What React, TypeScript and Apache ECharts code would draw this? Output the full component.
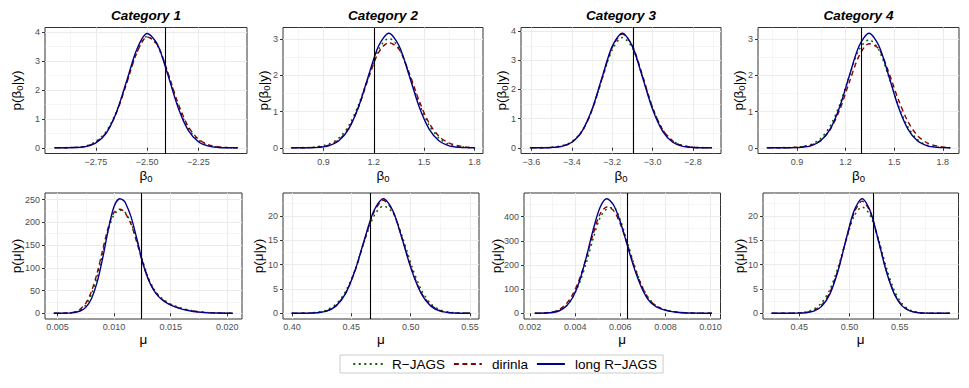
import React, { useEffect, useRef } from 'react';
import * as echarts from 'echarts';

// ---------- labels ----------
const categories = ['Category 1', 'Category 2', 'Category 3', 'Category 4'];
const methodNames = ['R−JAGS', 'dirinla', 'long R−JAGS'];

// ---------- Row 1: posterior of beta0 ----------
const c1BetaX = [-2.95, -2.9, -2.85, -2.8, -2.75, -2.7, -2.65, -2.6, -2.55, -2.5, -2.45, -2.4, -2.35, -2.3, -2.25, -2.2, -2.15, -2.1, -2.06];
const c1BetaRjags = [0, 0.003, 0.015, 0.06, 0.22, 0.56, 1.25, 2.25, 3.3, 3.84, 3.52, 2.58, 1.48, 0.68, 0.26, 0.08, 0.02, 0.004, 0];
const c1BetaDirinla = [0, 0.002, 0.012, 0.05, 0.19, 0.52, 1.2, 2.22, 3.28, 3.82, 3.55, 2.62, 1.55, 0.74, 0.3, 0.1, 0.03, 0.005, 0];
const c1BetaLong = [0, 0.001, 0.008, 0.04, 0.17, 0.5, 1.22, 2.3, 3.4, 3.94, 3.57, 2.54, 1.41, 0.61, 0.21, 0.055, 0.011, 0.002, 0];

const c2BetaX = [0.71, 0.81, 0.87, 0.93, 0.99, 1.05, 1.11, 1.17, 1.23, 1.29, 1.35, 1.41, 1.47, 1.53, 1.59, 1.65, 1.71, 1.77, 1.8];
const c2BetaRjags = [0, 0.008, 0.035, 0.1, 0.26, 0.6, 1.2, 1.98, 2.72, 3.02, 2.76, 2.04, 1.23, 0.62, 0.26, 0.09, 0.03, 0.006, 0];
const c2BetaDirinla = [0, 0.004, 0.02, 0.07, 0.21, 0.54, 1.13, 1.94, 2.64, 2.9, 2.72, 2.08, 1.3, 0.68, 0.31, 0.13, 0.05, 0.01, 0];
const c2BetaLong = [0, 0.002, 0.012, 0.053, 0.186, 0.515, 1.14, 2.01, 2.82, 3.16, 2.82, 2.01, 1.14, 0.515, 0.186, 0.053, 0.012, 0.002, 0];

const c3BetaX = [-3.605, -3.55, -3.5, -3.45, -3.4, -3.35, -3.3, -3.25, -3.2, -3.15, -3.1, -3.05, -3.0, -2.95, -2.9, -2.85, -2.8, -2.75, -2.706];
const c3BetaRjags = [0, 0.004, 0.02, 0.07, 0.21, 0.58, 1.3, 2.36, 3.36, 3.78, 3.42, 2.44, 1.38, 0.63, 0.24, 0.08, 0.02, 0.005, 0];
const c3BetaDirinla = [0, 0.003, 0.013, 0.055, 0.19, 0.55, 1.29, 2.38, 3.44, 3.9, 3.5, 2.48, 1.38, 0.62, 0.23, 0.07, 0.018, 0.004, 0];
const c3BetaLong = [0, 0.002, 0.01, 0.05, 0.189, 0.564, 1.32, 2.42, 3.48, 3.93, 3.48, 2.42, 1.32, 0.564, 0.189, 0.05, 0.01, 0.002, 0];

const c4BetaX = [0.717, 0.805, 0.865, 0.925, 0.985, 1.045, 1.105, 1.165, 1.225, 1.285, 1.345, 1.405, 1.465, 1.525, 1.585, 1.645, 1.705, 1.765, 1.825, 1.845];
const c4BetaRjags = [0, 0.003, 0.01, 0.03, 0.09, 0.25, 0.6, 1.2, 2.0, 2.72, 2.98, 2.7, 1.98, 1.18, 0.57, 0.22, 0.07, 0.02, 0.004, 0];
const c4BetaDirinla = [0, 0.001, 0.005, 0.02, 0.07, 0.2, 0.5, 1.06, 1.83, 2.55, 2.87, 2.73, 2.1, 1.34, 0.72, 0.33, 0.13, 0.05, 0.01, 0];
const c4BetaLong = [0, 0, 0.002, 0.012, 0.053, 0.186, 0.515, 1.14, 2.01, 2.82, 3.16, 2.82, 2.01, 1.14, 0.515, 0.186, 0.053, 0.012, 0.002, 0];

// ---------- Row 2: posterior of mu ----------
const c1MuX = [0.0047, 0.006, 0.0065, 0.007, 0.0075, 0.008, 0.0085, 0.009, 0.0095, 0.01, 0.0105, 0.0108, 0.011, 0.0115, 0.012, 0.0125, 0.013, 0.0135, 0.014, 0.0145, 0.015, 0.016, 0.017, 0.018, 0.019, 0.0205];
const c1MuRjags = [0, 0.5, 2.2, 7, 18, 42, 80, 132, 184, 217, 227, 226, 221, 199, 161, 118, 80, 54, 38, 28, 20, 11, 5, 2, 0.8, 0];
const c1MuDirinla = [0, 0.8, 3, 9, 22, 48, 88, 140, 190, 222, 229, 226, 220, 196, 157, 114, 78, 52, 36, 26, 19, 10, 5, 2, 0.7, 0];
const c1MuLong = [0, 0.3, 1.5, 5, 13, 32, 68, 122, 185, 235, 252, 249, 243, 212, 165, 114, 76, 51, 35, 25, 18, 9, 4, 1.5, 0.5, 0];

const c2MuX = [0.4, 0.413, 0.421, 0.429, 0.437, 0.445, 0.453, 0.461, 0.469, 0.477, 0.485, 0.493, 0.501, 0.509, 0.517, 0.525, 0.533, 0.541, 0.55];
const c2MuRjags = [0, 0.05, 0.2, 0.65, 1.85, 4.4, 8.9, 14.8, 19.9, 22.0, 20.6, 15.7, 9.6, 4.8, 1.95, 0.68, 0.2, 0.05, 0];
const c2MuDirinla = [0, 0.03, 0.12, 0.47, 1.55, 4.05, 8.6, 14.9, 20.7, 23.2, 20.9, 15.2, 8.9, 4.2, 1.62, 0.52, 0.14, 0.03, 0];
const c2MuLong = [0, 0.02, 0.1, 0.43, 1.47, 3.98, 8.66, 15.08, 21.03, 23.5, 21.03, 15.08, 8.66, 3.98, 1.47, 0.43, 0.1, 0.02, 0];

const c3MuX = [0.00222, 0.0027, 0.003, 0.0033, 0.0036, 0.0039, 0.0042, 0.0045, 0.0048, 0.0051, 0.0054, 0.0057, 0.006, 0.0063, 0.0066, 0.0069, 0.0072, 0.0075, 0.0078, 0.0081, 0.0085, 0.009, 0.0095, 0.01006];
const c3MuRjags = [0, 1, 4, 12, 30, 68, 128, 212, 310, 395, 432, 438, 385, 298, 205, 126, 70, 38, 21, 12, 5, 1.5, 0.4, 0];
const c3MuDirinla = [0, 2, 6, 16, 38, 80, 145, 232, 330, 410, 440, 425, 370, 290, 200, 124, 68, 36, 20, 11, 5, 1.6, 0.5, 0];
const c3MuLong = [0, 0.85, 3.2, 10.4, 28.7, 67.5, 136, 235, 347, 438, 474, 448, 378, 284, 191, 115, 61, 32, 18, 10, 4.5, 1.3, 0.4, 0];

const c4MuX = [0.4227, 0.4405, 0.4485, 0.4565, 0.4645, 0.4725, 0.4805, 0.4885, 0.4965, 0.5045, 0.5125, 0.5205, 0.5285, 0.5365, 0.5445, 0.5525, 0.5605, 0.5685, 0.5765, 0.5845, 0.5996];
const c4MuRjags = [0, 0.02, 0.08, 0.28, 0.85, 2.2, 4.9, 9.4, 15.0, 19.9, 21.8, 20.1, 15.4, 9.5, 4.7, 1.9, 0.65, 0.18, 0.04, 0.01, 0];
const c4MuDirinla = [0, 0.01, 0.05, 0.18, 0.6, 1.75, 4.3, 8.9, 15.0, 20.6, 23.0, 20.8, 15.1, 8.8, 4.1, 1.55, 0.48, 0.12, 0.03, 0.005, 0];
const c4MuLong = [0, 0, 0.02, 0.1, 0.43, 1.47, 3.98, 8.66, 15.08, 21.03, 23.5, 21.03, 15.08, 8.66, 3.98, 1.47, 0.43, 0.1, 0.02, 0, 0];

// ---------- reference (true) values drawn as vertical lines ----------
const trueBeta0 = [-2.41, 1.2, -3.095, 1.3];
const trueMu = [0.0124, 0.466, 0.0063, 0.5236];

// ---------- axis ranges ----------
const betaXRanges = [[-2.998, -2.013], [0.659, 1.851], [-3.652, -2.661], [0.66, 1.9]];
const betaYRanges = [[-0.1975, 4.1475], [-0.158, 3.318], [-0.1965, 4.1265], [-0.158, 3.318]];
const muXRanges = [[0.0039, 0.0213], [0.3925, 0.5575], [0.00173, 0.01044], [0.4139, 0.6084]];
const muYRanges = [[-12.6, 264.6], [-1.175, 24.675], [-23.7, 497.7], [-1.175, 24.675]];

// ---------- tick labels ----------
const betaXTicks = [[-2.75, -2.5, -2.25], [0.9, 1.2, 1.5, 1.8], [-3.6, -3.4, -3.2, -3.0, -2.8], [0.9, 1.2, 1.5, 1.8]];
const betaXDecimals = [2, 1, 1, 1];
const betaXMinor = [[-2.875, -2.625, -2.375, -2.125], [0.75, 1.05, 1.35, 1.65], [-3.5, -3.3, -3.1, -2.9, -2.7], [0.75, 1.05, 1.35, 1.65]];
const betaYTicks = [[0, 1, 2, 3, 4], [0, 1, 2, 3], [0, 1, 2, 3, 4], [0, 1, 2, 3]];
const betaYMinor = [[0.5, 1.5, 2.5, 3.5], [0.5, 1.5, 2.5], [0.5, 1.5, 2.5, 3.5], [0.5, 1.5, 2.5]];
const muXTicks = [[0.005, 0.01, 0.015, 0.02], [0.4, 0.45, 0.5, 0.55], [0.002, 0.004, 0.006, 0.008, 0.01], [0.45, 0.5, 0.55]];
const muXDecimals = [3, 2, 3, 2];
const muXMinor = [[0.0075, 0.0125, 0.0175], [0.425, 0.475, 0.525], [0.003, 0.005, 0.007, 0.009], [0.425, 0.475, 0.525, 0.575]];
const muYTicks = [[0, 50, 100, 150, 200, 250], [0, 5, 10, 15, 20], [0, 100, 200, 300, 400], [0, 5, 10, 15, 20]];
const muYMinor = [[25, 75, 125, 175, 225], [2.5, 7.5, 12.5, 17.5, 22.5], [50, 150, 250, 350, 450], [2.5, 7.5, 12.5, 17.5, 22.5]];

type Panel = {
  x: number[]; curves: number[][]; xr: number[]; yr: number[];
  xt: number[]; xd: number; xm: number[]; yt: number[]; ym: number[]; vline: number; isBeta: boolean;
};

const betaCurves = [
  [c1BetaX, c1BetaRjags, c1BetaDirinla, c1BetaLong],
  [c2BetaX, c2BetaRjags, c2BetaDirinla, c2BetaLong],
  [c3BetaX, c3BetaRjags, c3BetaDirinla, c3BetaLong],
  [c4BetaX, c4BetaRjags, c4BetaDirinla, c4BetaLong],
];
const muCurves = [
  [c1MuX, c1MuRjags, c1MuDirinla, c1MuLong],
  [c2MuX, c2MuRjags, c2MuDirinla, c2MuLong],
  [c3MuX, c3MuRjags, c3MuDirinla, c3MuLong],
  [c4MuX, c4MuRjags, c4MuDirinla, c4MuLong],
];

const panels: Panel[] = [
  ...betaCurves.map((c, i) => ({
    x: c[0], curves: [c[1], c[2], c[3]], xr: betaXRanges[i], yr: betaYRanges[i],
    xt: betaXTicks[i], xd: betaXDecimals[i], xm: betaXMinor[i], yt: betaYTicks[i], ym: betaYMinor[i],
    vline: trueBeta0[i], isBeta: true,
  })),
  ...muCurves.map((c, i) => ({
    x: c[0], curves: [c[1], c[2], c[3]], xr: muXRanges[i], yr: muYRanges[i],
    xt: muXTicks[i], xd: muXDecimals[i], xm: muXMinor[i], yt: muYTicks[i], ym: muYMinor[i],
    vline: trueMu[i], isBeta: false,
  })),
];

// ---------- layout / styles ----------
const FONT = "'Liberation Sans', Arial, Helvetica, sans-serif";
const gridRects = [
  [45, 27.5, 202, 126], [283, 27.5, 200, 126], [521, 27.5, 200, 126], [758, 27.5, 201, 126],
  [45, 193, 197, 126], [283, 193, 196, 126], [524, 193, 196.5, 126], [763, 193, 195.5, 126],
];
const yNameGaps = [21, 12, 12, 12, 21, 17, 20, 16];
const xNameGaps = [13.5, 13.5, 13.5, 13.5, 12, 12, 12, 12];
const xLabelMargins = [4, 4, 4, 4, 3, 3, 3, 3];
const lineStyles = [
  { color: '#006400', width: 1.6, type: [0.5, 5], cap: 'round' },
  { color: '#8b0000', width: 1.4, type: [5, 3.5], cap: 'butt' },
  { color: '#00008b', width: 1.4, type: 'solid', cap: 'butt' },
];

function fmt(v: number, d: number) {
  const s = Math.abs(v).toFixed(d);
  return v < -1e-12 ? '−' + s : s;
}

function buildOption() {
  const grid: any[] = [];
  const xAxis: any[] = [];
  const yAxis: any[] = [];
  const series: any[] = [];
  const nameStyle = {
    fontSize: 13.5, color: '#000', fontFamily: FONT, lineHeight: 16,
    rich: { s: { fontSize: 9.5, lineHeight: 6.4, verticalAlign: 'bottom', fontFamily: FONT, color: '#000' } },
  };
  panels.forEach((p, i) => {
    const [l, t, w, h] = gridRects[i];
    grid.push({
      left: l, top: t, width: w, height: h, show: true, borderColor: '#333333', borderWidth: 1,
      backgroundColor: 'transparent', containLabel: false, outerBoundsMode: 'none',
    });
    xAxis.push({
      gridIndex: i, type: 'value', min: p.xr[0], max: p.xr[1], position: 'bottom',
      name: p.isBeta ? 'β{s|0}' : 'μ', nameLocation: 'middle', nameGap: xNameGaps[i], nameTextStyle: nameStyle,
      nameMoveOverlap: false,
      axisLine: { show: false },
      axisTick: { show: true, length: 3, lineStyle: { color: '#333333', width: 1 }, customValues: p.xt },
      axisLabel: {
        show: true, customValues: p.xt, formatter: (v: number) => fmt(v, p.xd),
        fontSize: 9, color: '#4d4d4d', fontFamily: FONT, margin: xLabelMargins[i],
      },
      splitLine: { show: true, lineStyle: { color: '#ebebeb', width: 1 } },
      z: 1,
    });
    xAxis.push({
      gridIndex: i, type: 'value', min: p.xr[0], max: p.xr[1], position: 'bottom',
      axisLine: { show: false }, axisTick: { show: false, customValues: p.xm }, axisLabel: { show: false },
      splitLine: { show: true, lineStyle: { color: '#ebebeb', width: 0.5 } },
      z: 0,
    });
    yAxis.push({
      gridIndex: i, type: 'value', min: p.yr[0], max: p.yr[1], position: 'left',
      name: p.isBeta ? 'p(β{s|0}|y)' : 'p(μ|y)', nameLocation: 'middle', nameRotate: 90,
      nameGap: yNameGaps[i], nameTextStyle: nameStyle, nameMoveOverlap: false,
      axisLine: { show: false },
      axisTick: { show: true, length: 3, lineStyle: { color: '#333333', width: 1 }, customValues: p.yt },
      axisLabel: {
        show: true, customValues: p.yt, formatter: (v: number) => fmt(v, 0),
        fontSize: 9, color: '#4d4d4d', fontFamily: FONT, margin: 5,
      },
      splitLine: { show: true, lineStyle: { color: '#ebebeb', width: 1 } },
      z: 1,
    });
    yAxis.push({
      gridIndex: i, type: 'value', min: p.yr[0], max: p.yr[1], position: 'left',
      axisLine: { show: false }, axisTick: { show: false, customValues: p.ym }, axisLabel: { show: false },
      splitLine: { show: true, lineStyle: { color: '#ebebeb', width: 0.5 } },
      z: 0,
    });
    p.curves.forEach((ys, k) => {
      const ls = lineStyles[k];
      series.push({
        type: 'line', name: methodNames[k], xAxisIndex: 2 * i, yAxisIndex: 2 * i,
        data: p.x.map((xv, j) => [xv, ys[j]]),
        showSymbol: false, symbol: 'none', smooth: 0.3, silent: true, z: 2 + k,
        lineStyle: { color: ls.color, width: ls.width, type: ls.type, cap: ls.cap },
        itemStyle: { color: ls.color },
        markLine: k === 2 ? {
          silent: true, symbol: ['none', 'none'], label: { show: false }, animation: false,
          precision: 8,
          lineStyle: { color: '#000000', width: 1.1, type: 'solid' },
          data: [{ xAxis: p.vline }],
        } : undefined,
      });
    });
  });

  const graphic = categories.map((c, i) => ({
    type: 'text', x: gridRects[i][0] + gridRects[i][2] / 2, y: 15,
    style: {
      text: c, fontSize: 13.5, fontWeight: 'bold', fontStyle: 'italic', fontFamily: FONT,
      fill: '#000', align: 'center', verticalAlign: 'middle',
    },
  }));

  return {
    animation: false,
    backgroundColor: '#ffffff',
    grid, xAxis, yAxis, series, graphic,
    legend: {
      data: methodNames, left: 340, top: 355, orient: 'horizontal',
      itemWidth: 28, itemHeight: 14, itemGap: 8, padding: [2, 6, 2, 13],
      borderColor: '#cccccc', borderWidth: 1, selectedMode: false,
      itemStyle: { opacity: 0 },
      textStyle: { fontSize: 13.5, color: '#000', fontFamily: FONT, padding: [0, 0, 0, 5] },
    },
  };
}

export default function App() {
  const ref = useRef<HTMLDivElement>(null);
  useEffect(() => {
    if (!ref.current) return;
    const chart = echarts.init(ref.current, null, { renderer: 'svg' });
    chart.setOption(buildOption() as any);
    return () => chart.dispose();
  }, []);
  return (
    <div
      ref={ref}
      style={{ position: 'absolute', left: 0, top: 0, width: 969, height: 388, background: '#fff' }}
    />
  );
}
